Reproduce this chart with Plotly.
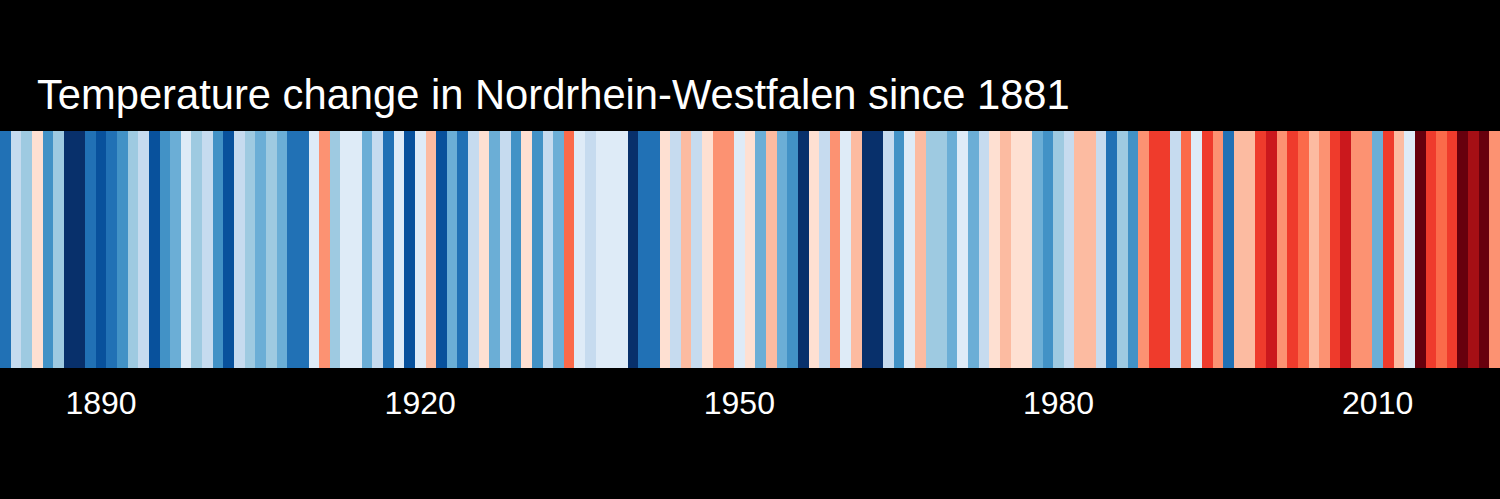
import plotly.graph_objects as go

# Temperature stripes for Nordrhein-Westfalen, 1881-2021
first_year = 1881
# stripe class per year: -8 (coldest) .. -1, +1 .. +8 (warmest)
levels = [
    -6, -2, -3, 1, -5, -3, -8, -8, -6, -7,   # 1881-1890
    -6, -5, -3, -2, -7, -5, -4, -1, -3, -2,   # 1891-1900
    -5, -7, -2, -3, -4, -3, -4, -6, -6, -1,   # 1901-1910
    3, -3, -1, -1, -4, -2, -6, -1, -7, -1,    # 1911-1920
    2, -7, -4, -6, -2, 1, -4, -2, -5, 1,      # 1921-1930
    -5, -2, -4, 4, -1, -2, -1, -1, -1, -8,    # 1931-1940
    -6, -6, 1, -2, 2, -2, 1, 3, 3, -1,        # 1941-1950
    1, -4, 2, -4, -5, -8, 1, -2, 3, -1,       # 1951-1960
    2, -8, -8, -2, -5, -1, 2, -3, -3, -4,     # 1961-1970
    -1, -4, -2, 1, 2, 1, 1, -4, -5, -3,       # 1971-1980
    -2, 2, 2, -2, -6, -3, -5, 3, 5, 5,        # 1981-1990
    -2, 4, -1, 5, 3, -6, 2, 2, 5, 6,          # 1991-2000
    3, 5, 4, 2, 3, 5, 6, 3, 3, -4,            # 2001-2010
    5, 2, -1, 8, 5, 4, 5, 8, 7, 8,            # 2011-2020
    3,                                        # 2021
]
years = list(range(first_year, first_year + len(levels)))

palette = [
    "#08306b", "#08519c", "#2171b5", "#4292c6", "#6baed6", "#9ecae1", "#c6dbef", "#deebf7",
    "#fee0d2", "#fcbba1", "#fc9272", "#fb6a4a", "#ef3b2c", "#cb181d", "#a50f15", "#67000d",
]
tick_years = [1890, 1920, 1950, 1980, 2010]
title_text = "Temperature change in Nordrhein-Westfalen since 1881"

class_index = [lv + 8 if lv < 0 else lv + 7 for lv in levels]
n = len(palette)
colorscale = []
for k, c in enumerate(palette):
    colorscale.append([k / n, c])
    colorscale.append([(k + 1) / n, c])

fig = go.Figure(
    go.Heatmap(
        x=years,
        y=[0],
        z=[class_index],
        zmin=-0.5,
        zmax=n - 0.5,
        colorscale=colorscale,
        showscale=False,
        hovertemplate="%{x}<extra></extra>",
    )
)

fig.update_layout(
    width=1500,
    height=499,
    margin=dict(l=0, r=0, t=0, b=0),
    paper_bgcolor="black",
    plot_bgcolor="black",
    font=dict(family="Liberation Sans, Arial, Helvetica, sans-serif", color="white"),
    xaxis=dict(
        range=[first_year - 0.5, years[-1] + 0.5],
        tickvals=tick_years,
        ticktext=[str(y) for y in tick_years],
        tickfont=dict(size=32, color="white"),
        showgrid=False,
        zeroline=False,
        showline=False,
        ticks="",
        ticklabelstandoff=13,
    ),
    yaxis=dict(
        domain=[1 - 368 / 499, 1 - 131 / 499],
        showticklabels=False,
        showgrid=False,
        zeroline=False,
        ticks="",
    ),
    annotations=[
        dict(
            text=title_text,
            xref="paper", yref="paper",
            x=35 / 1500, y=1 - 120 / 499,
            xanchor="left", yanchor="bottom",
            showarrow=False,
            font=dict(size=41.7, color="white"),
        )
    ],
)

fig.write_html(
    "out.html",
    config={"displayModeBar": False},
    post_script="document.body.style.margin='0';document.body.style.background='black';",
)
